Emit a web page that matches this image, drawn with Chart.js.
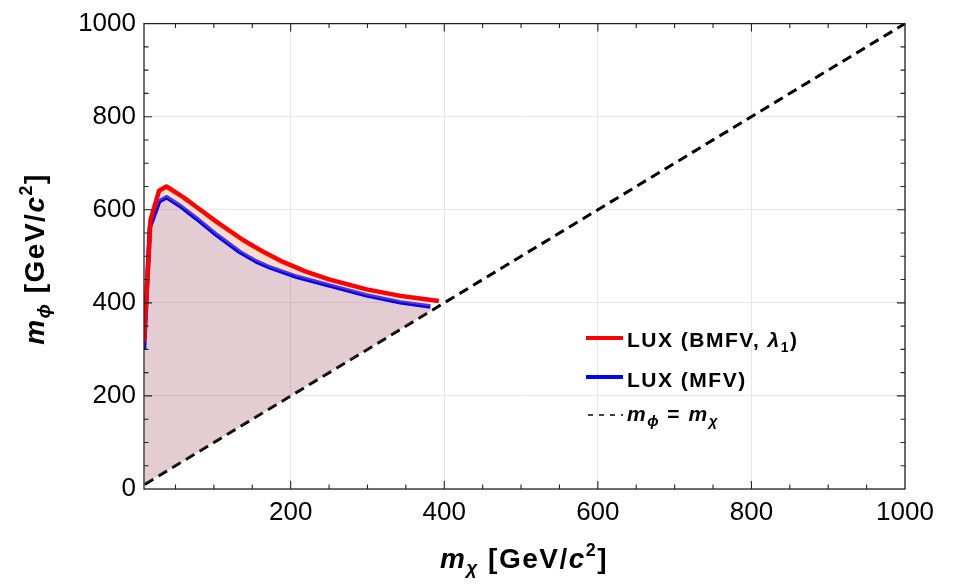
<!DOCTYPE html>
<html>
<head>
<meta charset="utf-8">
<script src="https://cdn.jsdelivr.net/npm/chart.js@4.4.0/dist/chart.umd.min.js"></script>
<style>
  body { margin: 0; background: #fff; }
  #myChart { display: block; }
</style>
</head>
<body>
<canvas id="myChart" width="959" height="585"></canvas>
<script>
// LUX (BMFV, lambda_1) bound - red
const redX = [9, 17.5, 28.7, 38.3, 60, 77.5, 103.6, 138, 165, 190, 220, 251, 299, 343, 393];
const redY = [315, 578, 641, 650, 627, 606, 574, 535, 509, 488, 467, 450, 429, 415, 404];
// LUX (MFV) bound - blue
const blueX = [9, 16.6, 28.7, 38.3, 57.9, 77.5, 103.6, 134, 155, 173, 208, 251, 299, 343, 382];
const blueY = [300, 563, 618, 627, 606, 581, 546, 509, 489, 476, 456, 437, 416, 401, 392];
// m_phi = m_chi line
const diagX = [10, 1000];
const diagY = [10, 1000];

const xTicks = [200, 400, 600, 800, 1000];
const yTicks = [0, 200, 400, 600, 800, 1000];

const FONT = 'Arial, "Liberation Sans", sans-serif';

const toPoints = (xs, ys) => xs.map((x, i) => ({ x: x, y: ys[i] }));

// draw a row of text pieces (for sub/superscripts)
function richWidth(ctx, parts) {
  let w = 0;
  for (const p of parts) {
    ctx.font = p[1];
    w += ctx.measureText(p[0]).width;
  }
  return w;
}
function drawRich(ctx, parts, x, y) {
  let cx = x;
  for (const p of parts) {
    ctx.font = p[1];
    ctx.fillText(p[0], cx, y + (p[2] || 0));
    cx += ctx.measureText(p[0]).width;
  }
}

const b = (s) => `bold ${s}px ${FONT}`;
const ib = (s) => `italic bold ${s}px ${FONT}`;

// frame + inward ticks on all four sides
const frameTicks = {
  id: "frameTicks",
  afterDatasetsDraw(chart) {
    const { ctx, chartArea: a, scales } = chart;
    ctx.save();
    ctx.strokeStyle = "#222";
    ctx.lineWidth = 1.3;
    ctx.strokeRect(a.left, a.top, a.right - a.left, a.bottom - a.top);
    ctx.lineWidth = 1.1;
    ctx.beginPath();
    for (let v = 50; v < 1000; v += 50) {
      const len = v % 200 === 0 ? 8 : 4.5;
      const px = scales.x.getPixelForValue(v);
      if (px > a.left + 1 && px < a.right - 1) {
        ctx.moveTo(px, a.bottom);
        ctx.lineTo(px, a.bottom - len);
        ctx.moveTo(px, a.top);
        ctx.lineTo(px, a.top + len);
      }
      const py = scales.y.getPixelForValue(v);
      ctx.moveTo(a.left, py);
      ctx.lineTo(a.left + len, py);
      ctx.moveTo(a.right, py);
      ctx.lineTo(a.right - len, py);
    }
    ctx.stroke();
    ctx.restore();
  },
  afterDraw(chart) {
    const ctx = chart.ctx;
    ctx.save();
    ctx.fillStyle = "#000";
    ctx.textBaseline = "alphabetic";
    ctx.textAlign = "left";
    ctx.letterSpacing = "1.5px";

    // x axis title
    const xt = [
      ["m", ib(28)],
      ["χ", ib(19), 6],
      [" [GeV/", b(28)],
      ["c", ib(28)],
      ["2", b(18), -12],
      ["]", b(28)],
    ];
    drawRich(ctx, xt, 524 - richWidth(ctx, xt) / 2, 568);

    // y axis title
    const yt = [
      ["m", ib(28)],
      ["ϕ", ib(19), 6],
      [" [GeV/", b(28)],
      ["c", ib(28)],
      ["2", b(18), -12],
      ["]", b(28)],
    ];
    ctx.save();
    ctx.translate(44, 259);
    ctx.rotate(-Math.PI / 2);
    drawRich(ctx, yt, -richWidth(ctx, yt) / 2, 0);
    ctx.restore();

    // legend
    ctx.lineWidth = 4;
    ctx.strokeStyle = "#ff0000";
    ctx.beginPath();
    ctx.moveTo(586, 338);
    ctx.lineTo(623, 338);
    ctx.stroke();
    ctx.strokeStyle = "#0000ff";
    ctx.beginPath();
    ctx.moveTo(586, 377);
    ctx.lineTo(623, 377);
    ctx.stroke();
    ctx.strokeStyle = "#000";
    ctx.lineWidth = 1.5;
    ctx.setLineDash([5, 6]);
    ctx.beginPath();
    ctx.moveTo(588, 415);
    ctx.lineTo(623, 415);
    ctx.stroke();
    ctx.setLineDash([]);

    ctx.letterSpacing = "1.5px";
    drawRich(ctx, [["LUX (BMFV, ", b(21)], ["λ", ib(21)], ["1", b(14), 5], [")", b(21)]], 627, 347);
    drawRich(ctx, [["LUX (MFV)", b(21)]], 627, 387);
    drawRich(ctx, [["m", ib(21)], ["ϕ", ib(15), 5], [" = ", b(21)], ["m", ib(21)], ["χ", ib(15), 5]], 627, 421);
    ctx.restore();
  },
};

const data = {
  datasets: [
    {
      label: "LUX (BMFV, λ1)",
      data: toPoints(redX, redY),
      borderColor: "#ff0000",
      borderWidth: 4.5,
      borderJoinStyle: "round",
      pointRadius: 0,
      fill: 1,
      backgroundColor: "rgba(240, 160, 110, 0.35)",
    },
    {
      label: "LUX (MFV)",
      data: toPoints(blueX, blueY),
      borderColor: "#0000ff",
      borderWidth: 4.5,
      borderJoinStyle: "round",
      pointRadius: 0,
      fill: 2,
      backgroundColor: "rgba(165, 88, 105, 0.3)",
    },
    {
      label: "m_phi = m_chi",
      data: toPoints(diagX, diagY),
      borderColor: "#000",
      borderWidth: 3,
      borderDash: [10, 6],
      pointRadius: 0,
      fill: false,
    },
  ],
};

Chart.defaults.color = "#000";

const config = {
  type: "scatter",
  data: data,
  options: {
    responsive: false,
    animation: false,
    showLine: true,
    layout: {
      padding: { left: 0, right: 54, top: 19, bottom: 0 },
    },
    plugins: {
      legend: { display: false },
      tooltip: { enabled: false },
    },
    scales: {
      x: {
        type: "linear",
        min: 9,
        max: 1000,
        afterBuildTicks: (s) => {
          s.ticks = xTicks.map((v) => ({ value: v }));
        },
        afterFit: (s) => {
          s.height = 96;
        },
        grid: { color: "#e6e6e6", drawTicks: false },
        border: { display: false },
        ticks: {
          padding: 8,
          maxRotation: 0,
          font: { family: FONT, size: 26 },
          callback: (v) => String(v),
        },
      },
      y: {
        type: "linear",
        min: 0,
        max: 1000,
        afterBuildTicks: (s) => {
          s.ticks = yTicks.map((v) => ({ value: v }));
        },
        afterFit: (s) => {
          s.width = 144;
        },
        grid: { color: "#e6e6e6", drawTicks: false },
        border: { display: false },
        ticks: {
          padding: 8,
          font: { family: FONT, size: 26 },
          callback: (v) => String(v),
        },
      },
    },
  },
  plugins: [frameTicks],
};

const ctx = document.getElementById("myChart").getContext("2d");
const myChart = new Chart(ctx, config);
</script>
</body>
</html>
